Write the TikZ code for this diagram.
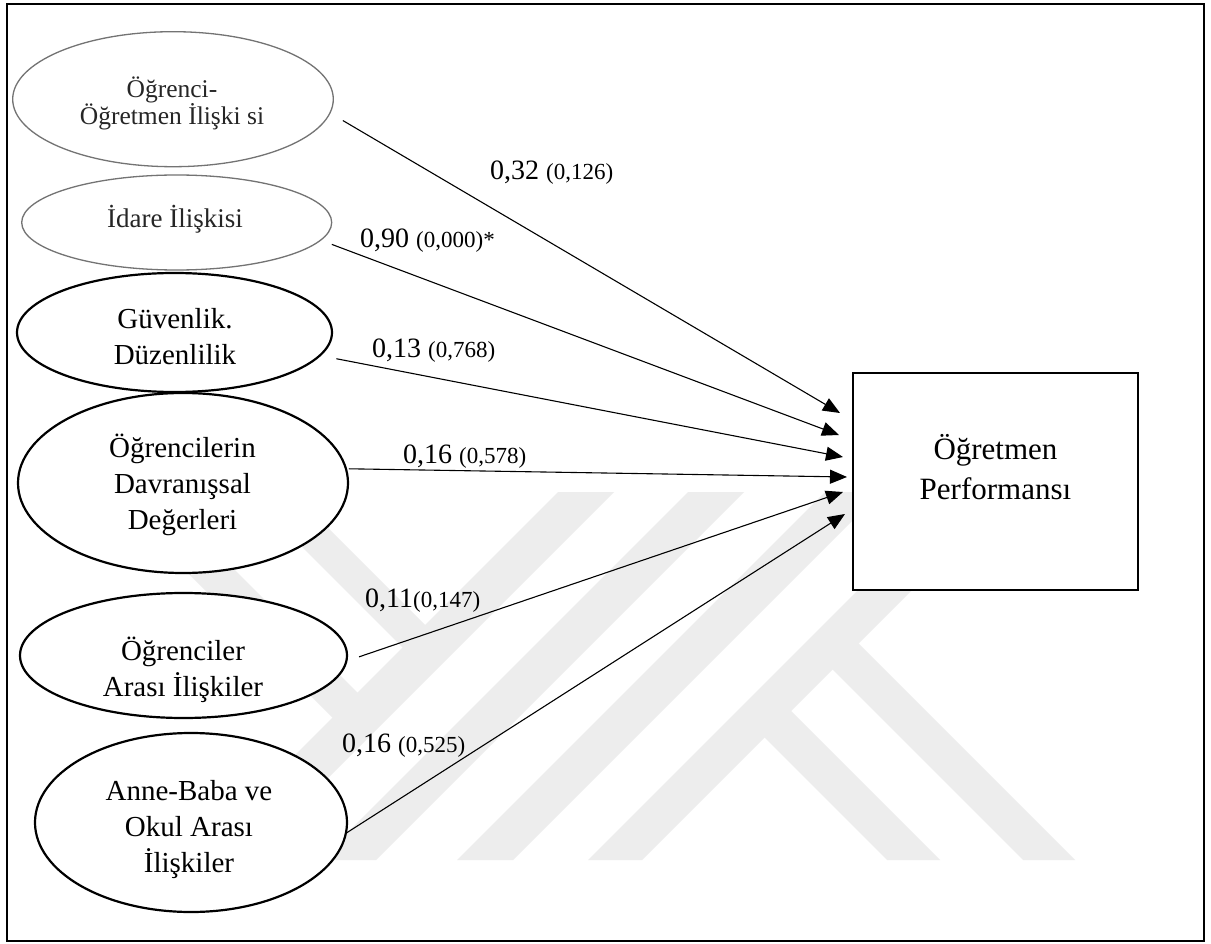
\documentclass[tikz,border=0pt]{standalone}
\usepackage{fontspec}
\setmainfont{Liberation Serif}
\usetikzlibrary{arrows.meta,shapes.geometric}
\newcommand{\pcoef}[1]{{\fontsize{23}{25}\selectfont #1}}
\begin{document}
\begin{tikzpicture}[x=1pt,y=-1pt,
  wm/.style={fill=black!7,draw=none},
  lightell/.style={ellipse,draw=black!55,line width=1.3pt,fill=white,inner sep=0pt,outer sep=0pt},
  darkell/.style={ellipse,draw=black,line width=2.2pt,fill=white,inner sep=0pt,outer sep=0pt},
  etext/.style={align=center,inner sep=0pt,font=\fontsize{29}{36}\selectfont},
  ltext/.style={align=center,inner sep=0pt,text=black!85,font=\fontsize{25.5}{27}\selectfont},
  conn/.style={line width=1.1pt,-{Triangle[length=17pt,width=14pt]}},
  coef/.style={anchor=base west,inner sep=0pt,font=\fontsize{28}{30}\selectfont},
]
\useasboundingbox (0,0) rectangle (1211,944);
\fill[white] (0,0) rectangle (1211,944);

% watermark
\fill[wm] (558,492)--(614,492)--(246,860)--(190,860)--cycle;
\fill[wm] (688,492)--(744,492)--(376,860)--(320,860)--cycle;
\fill[wm] (825,492)--(881,492)--(513,860)--(457,860)--cycle;
\fill[wm] (956,492)--(1010,492)--(642,860)--(588,860)--cycle;
\fill[wm] (845,630)--(1075,860)--(1023,860)--(819,656)--cycle;
\fill[wm] (777.5,697.5)--(940,860)--(887,860)--(751,724)--cycle;
\fill[wm] (439,639)--(292,492)--(247,492)--(416.5,661.5)--cycle;
\fill[wm] (371.5,706.5)--(157,492)--(107,492)--(346.5,731.5)--cycle;

% frame
\draw[line width=2.5pt] (7,4) rectangle (1204,941);

% target box
\node[draw,line width=2.5pt,fill=white,minimum width=285pt,minimum height=217pt,inner sep=0pt] (box) at (995.5,481.5) {};
\node[align=center,inner sep=0pt,font=\fontsize{31}{40}\selectfont] (boxtext) at (995.5,467) {Öğretmen\\Performansı};

% ellipses
\node[lightell,minimum width=320.6pt,minimum height=135pt] (e1) at (173,99.2) {};
\node[lightell,minimum width=310pt,minimum height=95pt] (e2) at (176.7,222.5) {};
\node[darkell,minimum width=315pt,minimum height=119pt] (e3) at (174.5,332.5) {};
\node[darkell,minimum width=330pt,minimum height=180pt] (e4) at (183,483) {};
\node[darkell,minimum width=327pt,minimum height=125pt] (e5) at (183.5,655.5) {};
\node[darkell,minimum width=312pt,minimum height=179pt] (e6) at (191,822.5) {};

\node[ltext] (e1t) at (172,103) {Öğrenci-\\Öğretmen İlişki si};
\node[ltext,font=\fontsize{27}{29}\selectfont] (e2t) at (175,219) {İdare İlişkisi};
\node[etext] (e3t) at (175,336.5) {Güvenlik.\\Düzenlilik};
\node[etext] (e4t) at (182.5,484.5) {Öğrencilerin\\Davranışsal\\Değerleri};
\node[etext] (e5t) at (183,669.4) {Öğrenciler\\Arası İlişkiler};
\node[etext] (e6t) at (189,829.5) {Anne-Baba ve\\Okul Arası\\İlişkiler};

% arrow tips
\coordinate (t1) at (840,413);
\coordinate (t2) at (839,435);
\coordinate (t3) at (843,457);
\coordinate (t4) at (847,477);
\coordinate (t5) at (843,492);
\coordinate (t6) at (845,514);

\draw[conn,shorten <=15pt] (e1.-5.1) -- (t1);
\draw[conn,shorten <=12pt] (e2.-7.6) -- (t2);
\draw[conn,shorten <=17pt] (e3.-9.5) -- (t3);
\draw[conn,shorten <=3pt] (e4.5.3) -- (t4);
\draw[conn,shorten <=13.5pt] (e5.-2.2) -- (t5);
\draw[conn] (e6.-4.6) -- (t6);

% coefficients
\node[coef] (l1) at (490,180) {0,32 \pcoef{(0,126)}};
\node[coef] (l2) at (360,248) {0,90 \pcoef{(0,000)*}};
\node[coef] (l3) at (372,357) {0,13 \pcoef{(0,768)}};
\node[coef] (l4) at (403,463) {0,16 \pcoef{(0,578)}};
\node[coef] (l5) at (365,607) {0,11\pcoef{(0,147)}};
\node[coef] (l6) at (342,752) {0,16 \pcoef{(0,525)}};
\end{tikzpicture}
\end{document}
